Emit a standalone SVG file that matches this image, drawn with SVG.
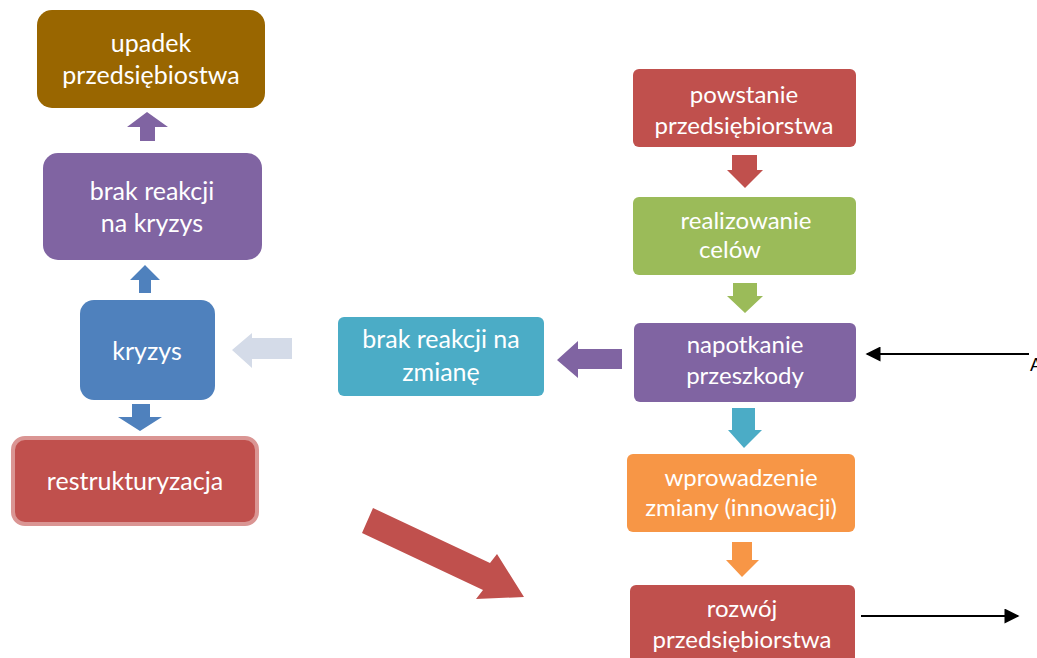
<svg xmlns="http://www.w3.org/2000/svg" width="1037" height="658" viewBox="0 0 1037 658">
  <defs>
    <style>
      .lbl { font-family: Lato, "Liberation Sans", sans-serif; fill: #ffffff; text-anchor: middle; }
      .big { font-size: 25px; }
      .mid { font-size: 24px; }
      .line { stroke: #000000; stroke-width: 2; fill: none; }
    </style>
    <marker id="head" viewBox="0 0 10 10" refX="9" refY="5" markerWidth="16" markerHeight="15" markerUnits="userSpaceOnUse" orient="auto">
      <path d="M0,0 L10,5 L0,10 Z" fill="#000000"/>
    </marker>
  </defs>
  <rect width="1037" height="658" fill="#ffffff"/>

  <!-- left column -->
  <g id="upadek">
    <rect x="37" y="10" width="228" height="98" rx="15" fill="#996600"/>
    <text class="lbl big" x="151" y="52">upadek</text>
    <text class="lbl big" x="151" y="84">przedsiębiostwa</text>
  </g>
  <g id="brak-reakcji-kryzys">
    <rect x="43" y="153" width="219" height="107" rx="15" fill="#8064A2"/>
    <text class="lbl big" x="152" y="200">brak reakcji</text>
    <text class="lbl big" x="152" y="232">na kryzys</text>
  </g>
  <g id="kryzys">
    <rect x="80" y="300" width="135" height="100" rx="14" fill="#4F81BD"/>
    <text class="lbl big" x="147" y="360">kryzys</text>
  </g>
  <g id="restrukturyzacja">
    <rect x="13" y="438" width="244" height="86" rx="12" fill="#C0504D" stroke="#DA9593" stroke-width="4"/>
    <text class="lbl big" x="135" y="490">restrukturyzacja</text>
  </g>

  <!-- middle -->
  <g id="brak-reakcji-zmiana">
    <rect x="338" y="317" width="206" height="79" rx="6" fill="#4BACC6"/>
    <text class="lbl big" x="441" y="348">brak reakcji na</text>
    <text class="lbl big" x="441" y="381">zmianę</text>
  </g>

  <!-- right column -->
  <g id="powstanie">
    <rect x="633" y="69" width="223" height="78" rx="6" fill="#C0504D"/>
    <text class="lbl mid" x="744" y="103">powstanie</text>
    <text class="lbl mid" x="744" y="134">przedsiębiorstwa</text>
  </g>
  <g id="realizowanie">
    <rect x="633" y="197" width="223" height="78" rx="6" fill="#9BBB59"/>
    <text class="lbl mid" x="746" y="229">realizowanie</text>
    <text class="lbl mid" x="730" y="258">celów</text>
  </g>
  <g id="napotkanie">
    <rect x="634" y="323" width="222" height="79" rx="6" fill="#8064A2"/>
    <text class="lbl mid" x="745" y="353">napotkanie</text>
    <text class="lbl mid" x="745" y="384">przeszkody</text>
  </g>
  <g id="wprowadzenie">
    <rect x="627" y="454" width="228" height="78" rx="6" fill="#F79646"/>
    <text class="lbl mid" x="741" y="486">wprowadzenie</text>
    <text class="lbl mid" x="741" y="516">zmiany (innowacji)</text>
  </g>
  <g id="rozwoj">
    <rect x="630" y="585" width="225" height="85" rx="6" fill="#C0504D"/>
    <text class="lbl mid" x="742" y="617">rozwój</text>
    <text class="lbl mid" x="742" y="648">przedsiębiorstwa</text>
  </g>

  <!-- connectors -->
  <g id="connectors">
    <!-- block arrows -->
    <polygon points="147,112 168,127 155,127 155,141 140,141 140,127 127,127" fill="#8064A2"/>
    <polygon points="145,265 160,280 151,280 151,293 139,293 139,280 130,280" fill="#4F81BD"/>
    <polygon points="132,404 150,404 150,417 162,417 140,431 118,417 132,417" fill="#4F81BD"/>
    <polygon points="232,350 252,333 252,338 292,338 292,359 252,359 252,368" fill="#D4DBE8"/>
    <polygon points="557,360 578,341 578,349 622,349 622,369 578,369 578,378" fill="#8064A2"/>
    <polygon points="732,155 757,155 757,170 763,170 745,188 727,170 732,170" fill="#C0504D"/>
    <polygon points="733,283 757,283 757,296 763,296 745,313 727,296 733,296" fill="#9BBB59"/>
    <polygon points="732,408 755,408 755,430 762,430 744,448 728,430 732,430" fill="#4BACC6"/>
    <polygon points="732,542 752,542 752,560 759,560 742,577 726,560 732,560" fill="#F79646"/>
    <polygon points="373,508 490,563 497,554 524,597 476,599 483,590 362,533" fill="#C0504D"/>
    <!-- line arrows -->
    <line class="line" x1="1029" y1="354" x2="867" y2="354" marker-end="url(#head)"/>
    <line class="line" x1="861" y1="616" x2="1018" y2="616" marker-end="url(#head)"/>
  </g>
  <text x="1030" y="371" font-family="Liberation Sans, sans-serif" font-size="18" fill="#000000">A</text>
</svg>
